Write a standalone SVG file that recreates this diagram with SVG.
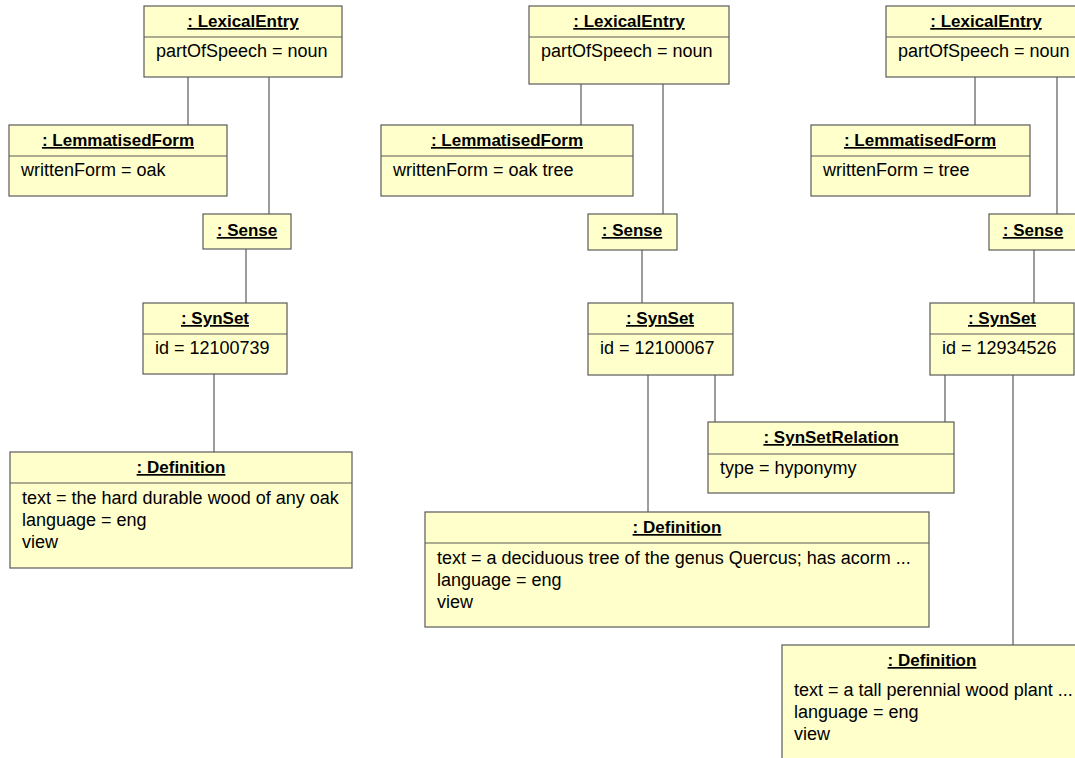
<svg xmlns="http://www.w3.org/2000/svg" width="1075" height="758" viewBox="0 0 1075 758">
  <style>
    .box { fill: #ffffcc; stroke: #5a5a5a; stroke-width: 1.2; }
    .div { stroke: #5a5a5a; stroke-width: 1.2; }
    .hdr { font-family: "Liberation Sans", Arial, sans-serif; font-size: 17px; font-weight: bold; fill: #000; text-anchor: middle; text-decoration: underline; text-decoration-thickness: 2px; }
    .att { font-family: "Liberation Sans", Arial, sans-serif; font-size: 18px; fill: #000; }
    .conn line { stroke: #5a5a5a; stroke-width: 1.2; }
  </style>
  <rect width="1075" height="758" fill="#ffffff"/>

  <!-- links between objects -->
  <g id="connectors" class="conn">
    <line x1="188" y1="77" x2="188" y2="125"/>
    <line x1="269" y1="77" x2="269" y2="214"/>
    <line x1="246" y1="249" x2="246" y2="303"/>
    <line x1="214" y1="374" x2="214" y2="452"/>

    <line x1="581" y1="84" x2="581" y2="125"/>
    <line x1="663" y1="84" x2="663" y2="214"/>
    <line x1="642" y1="250" x2="642" y2="303"/>
    <line x1="648" y1="375" x2="648" y2="512"/>
    <line x1="715" y1="375" x2="715" y2="422"/>
    <line x1="945" y1="375" x2="945" y2="422"/>

    <line x1="975" y1="77" x2="975" y2="125"/>
    <line x1="1057" y1="77" x2="1057" y2="214"/>
    <line x1="1034" y1="250" x2="1034" y2="303"/>
    <line x1="1013" y1="375" x2="1013" y2="645"/>
  </g>

  <!-- oak -->
  <g id="lexicalEntry1">
    <rect class="box" x="144" y="6" width="198" height="71"/>
    <line class="div" x1="144" y1="37" x2="342" y2="37"/>
    <text class="hdr" x="243" y="27">: LexicalEntry</text>
    <text class="att" x="156" y="57">partOfSpeech = noun</text>
  </g>
  <g id="lemmatisedForm1">
    <rect class="box" x="9" y="125" width="218" height="71"/>
    <line class="div" x1="9" y1="156" x2="227" y2="156"/>
    <text class="hdr" x="118" y="146">: LemmatisedForm</text>
    <text class="att" x="21" y="176">writtenForm = oak</text>
  </g>
  <g id="sense1">
    <rect class="box" x="203" y="214" width="88" height="35"/>
    <text class="hdr" x="247" y="236">: Sense</text>
  </g>
  <g id="synSet1">
    <rect class="box" x="143" y="303" width="144" height="71"/>
    <line class="div" x1="143" y1="334" x2="287" y2="334"/>
    <text class="hdr" x="215" y="324">: SynSet</text>
    <text class="att" x="155" y="354">id = 12100739</text>
  </g>
  <g id="definition1">
    <rect class="box" x="10" y="452" width="342" height="116"/>
    <line class="div" x1="10" y1="483" x2="352" y2="483"/>
    <text class="hdr" x="181" y="473">: Definition</text>
    <text class="att" x="22" y="504">text = the hard durable wood of any oak</text>
    <text class="att" x="22" y="526">language = eng</text>
    <text class="att" x="22" y="548">view</text>
  </g>

  <!-- oak tree -->
  <g id="lexicalEntry2">
    <rect class="box" x="529" y="6" width="200" height="78"/>
    <line class="div" x1="529" y1="37" x2="729" y2="37"/>
    <text class="hdr" x="629" y="27">: LexicalEntry</text>
    <text class="att" x="541" y="57">partOfSpeech = noun</text>
  </g>
  <g id="lemmatisedForm2">
    <rect class="box" x="381" y="125" width="252" height="71"/>
    <line class="div" x1="381" y1="156" x2="633" y2="156"/>
    <text class="hdr" x="507" y="146">: LemmatisedForm</text>
    <text class="att" x="393" y="176">writtenForm = oak tree</text>
  </g>
  <g id="sense2">
    <rect class="box" x="588" y="214" width="89" height="36"/>
    <text class="hdr" x="632" y="236">: Sense</text>
  </g>
  <g id="synSet2">
    <rect class="box" x="588" y="303" width="145" height="72"/>
    <line class="div" x1="588" y1="334" x2="733" y2="334"/>
    <text class="hdr" x="660" y="324">: SynSet</text>
    <text class="att" x="600" y="354">id = 12100067</text>
  </g>
  <g id="synSetRelation">
    <rect class="box" x="708" y="422" width="246" height="71"/>
    <line class="div" x1="708" y1="454" x2="954" y2="454"/>
    <text class="hdr" x="831" y="443">: SynSetRelation</text>
    <text class="att" x="720" y="474">type = hyponymy</text>
  </g>
  <g id="definition2">
    <rect class="box" x="425" y="512" width="504" height="115"/>
    <line class="div" x1="425" y1="543" x2="929" y2="543"/>
    <text class="hdr" x="677" y="533">: Definition</text>
    <text class="att" x="437" y="564">text = a deciduous tree of the genus Quercus; has acorm ...</text>
    <text class="att" x="437" y="586">language = eng</text>
    <text class="att" x="437" y="608">view</text>
  </g>

  <!-- tree -->
  <g id="lexicalEntry3">
    <rect class="box" x="886" y="6" width="200" height="71"/>
    <line class="div" x1="886" y1="37" x2="1086" y2="37"/>
    <text class="hdr" x="986" y="27">: LexicalEntry</text>
    <text class="att" x="898" y="57">partOfSpeech = noun</text>
  </g>
  <g id="lemmatisedForm3">
    <rect class="box" x="811" y="125" width="219" height="71"/>
    <line class="div" x1="811" y1="156" x2="1030" y2="156"/>
    <text class="hdr" x="920" y="146">: LemmatisedForm</text>
    <text class="att" x="823" y="176">writtenForm = tree</text>
  </g>
  <g id="sense3">
    <rect class="box" x="989" y="214" width="88" height="36"/>
    <text class="hdr" x="1033" y="236">: Sense</text>
  </g>
  <g id="synSet3">
    <rect class="box" x="930" y="303" width="144" height="72"/>
    <line class="div" x1="930" y1="334" x2="1074" y2="334"/>
    <text class="hdr" x="1002" y="324">: SynSet</text>
    <text class="att" x="942" y="354">id = 12934526</text>
  </g>
  <g id="definition3">
    <rect class="box" x="782" y="645" width="300" height="120"/>
    <text class="hdr" x="932" y="666">: Definition</text>
    <text class="att" x="794" y="696">text = a tall perennial wood plant ...</text>
    <text class="att" x="794" y="718">language = eng</text>
    <text class="att" x="794" y="740">view</text>
  </g>
</svg>
